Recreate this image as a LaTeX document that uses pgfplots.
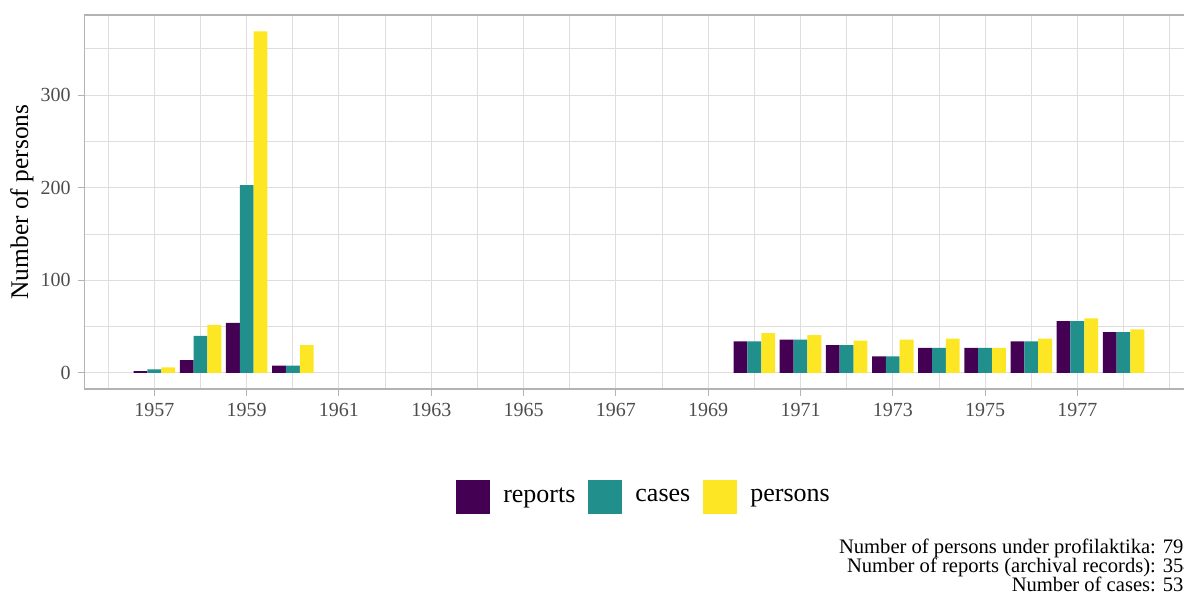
\documentclass[border=0pt]{standalone}
\usepackage{pgfplots}
\pgfplotsset{compat=1.18}
\usepackage{pgfplotstable}
\usepackage{fontspec}
\setmainfont{Liberation Serif}

\definecolor{vreports}{HTML}{440154}
\definecolor{vcases}{HTML}{21908C}
\definecolor{vpersons}{HTML}{FDE725}
\definecolor{gridgrey}{HTML}{DEDEDE}
\definecolor{framegrey}{HTML}{B3B3B3}
\definecolor{ticktext}{HTML}{4D4D4D}

\pgfplotsset{
    sqlegend/.style={legend image code/.code={\fill[##1, draw=none] (0pt,-8.5pt) rectangle (17pt,8.5pt);}},
}

% counts per year
\pgfplotstableread{
year reports cases persons
1957 2 4 6
1958 14 40 52
1959 54 203 369
1960 8 8 30
1970 34 34 43
1971 36 36 41
1972 30 30 35
1973 18 18 36
1974 27 27 37
1975 27 27 27
1976 34 34 37
1977 56 56 59
1978 44 44 47
}\counts

\begin{document}
\begin{tikzpicture}
\begin{axis}[
    at={(0pt,0pt)}, anchor=south west,
    scale only axis,
    width=555.2pt, height=187pt,
    xmin=1955.49, xmax=1979.55,
    ymin=-17.3, ymax=386.6,
    ybar, bar width=0.3,
    xtick={1957,1959,...,1977},
    minor xtick={1956,1958,...,1978,1979},
    ytick={0,100,200,300},
    minor ytick={50,150,250,350},
    /pgf/number format/1000 sep={},
    /pgf/number format/assume math mode=true,
    grid=both,
    major grid style={draw=gridgrey, line width=0.5pt},
    minor grid style={draw=gridgrey, line width=0.4pt},
    axis line style={draw=framegrey, line width=0.6pt},
    tick style={draw=framegrey, line width=0.5pt},
    major tick length=3.5pt, minor tick length=0pt,
    tick align=outside, tick pos=left,
    tick label style={font=\fontsize{10}{12}\selectfont, text=ticktext},
    ylabel={Number of persons},
    ylabel style={font=\fontsize{12.7}{15}\selectfont, at={(axis description cs:-0.0565,0.5)}, anchor=center},
    legend style={at={(axis description cs:0.5046,-0.2888)}, anchor=center,
        draw=none, fill=none, legend columns=3,
        font=\fontsize{13}{15}\selectfont,
        /tikz/every odd column/.append style={column sep=4.5pt},
        /tikz/every even column/.append style={column sep=4.5pt}},
]
\addplot[fill=vreports, draw=none, bar shift=-0.3, sqlegend]
    table[x=year, y=reports] {\counts};
\addplot[fill=vcases, draw=none, bar shift=0, sqlegend]
    table[x=year, y=cases] {\counts};
\addplot[fill=vpersons, draw=none, bar shift=0.3, sqlegend]
    table[x=year, y=persons] {\counts};
\legend{reports, cases, persons}
\end{axis}

\begin{scope}[every node/.style={anchor=base east, inner sep=0pt, font=\fontsize{10.3}{12}\selectfont}]
\node at (554.7pt,-82.3pt) {Number of persons under profilaktika: 790};
\node at (554.7pt,-91.7pt) {Number of reports (archival records): 354};
\node at (554.7pt,-101.1pt) {Number of cases: 536};
\end{scope}

\pgfresetboundingbox
\useasboundingbox (-42.35pt,-101.5pt) rectangle (549.65pt,194.5pt);
\end{tikzpicture}
\end{document}
